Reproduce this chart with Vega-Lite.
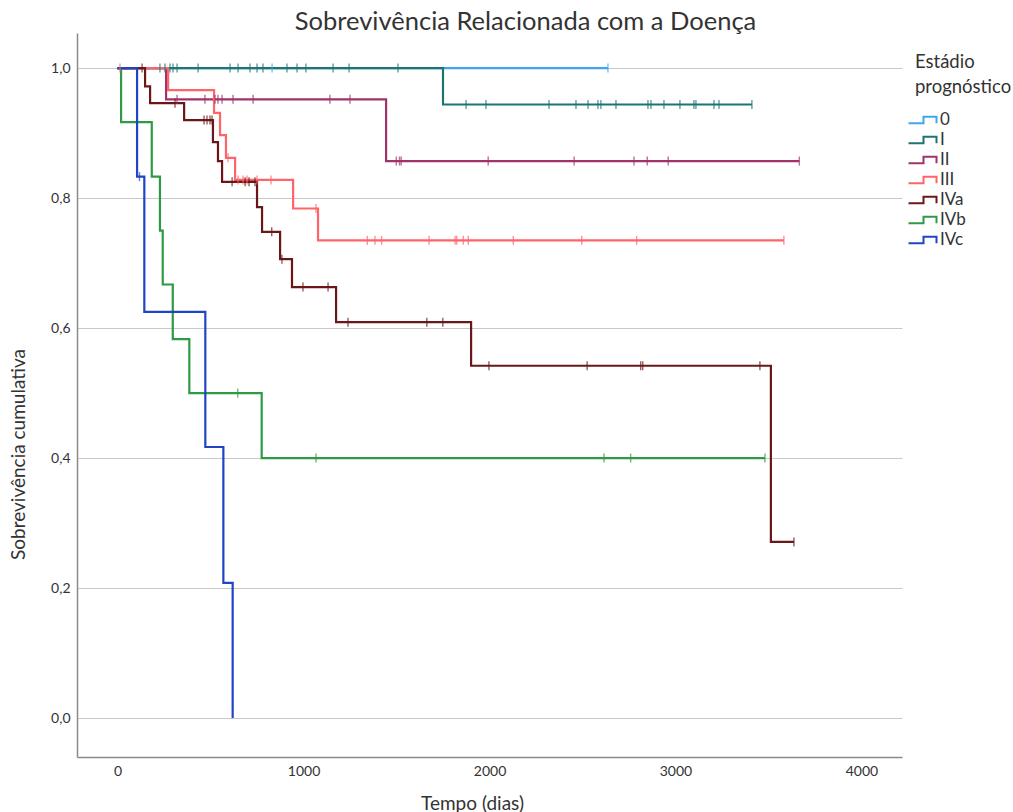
{
  "$schema": "https://vega.github.io/schema/vega-lite/v6.json",
  "width": 825,
  "height": 724,
  "autosize": {"type": "none"},
  "padding": {"left": 77, "top": 33, "right": 111, "bottom": 55},
  "background": "white",
  "title": {"text": "Sobrevivência Relacionada com a Doença", "font": "Lato", "fontSize": 25.5, "fontWeight": "normal", "color": "#333333", "anchor": "middle", "dx": 36, "dy": 26, "baseline": "alphabetic", "offset": 4},
  "config": {"view": {"stroke": null}, "font": "Lato", "axis": {"labelColor": "#333333", "titleColor": "#333333", "labelFont": "Lato", "titleFont": "Lato"}},
  "data": {"values": [
    {"g": "0", "t": 0, "s": 1, "c": 0},
    {"g": "0", "t": 831, "s": 1, "c": 1},
    {"g": "0", "t": 2637, "s": 1, "c": 1},

    {"g": "I", "t": 0, "s": 1, "c": 0},
    {"g": "I", "t": 228, "s": 1, "c": 1},
    {"g": "I", "t": 255, "s": 1, "c": 1},
    {"g": "I", "t": 282, "s": 1, "c": 1},
    {"g": "I", "t": 298, "s": 1, "c": 1},
    {"g": "I", "t": 320, "s": 1, "c": 1},
    {"g": "I", "t": 433, "s": 1, "c": 1},
    {"g": "I", "t": 605, "s": 1, "c": 1},
    {"g": "I", "t": 648, "s": 1, "c": 1},
    {"g": "I", "t": 712, "s": 1, "c": 1},
    {"g": "I", "t": 750, "s": 1, "c": 1},
    {"g": "I", "t": 782, "s": 1, "c": 1},
    {"g": "I", "t": 911, "s": 1, "c": 1},
    {"g": "I", "t": 965, "s": 1, "c": 1},
    {"g": "I", "t": 1013, "s": 1, "c": 1},
    {"g": "I", "t": 1159, "s": 1, "c": 1},
    {"g": "I", "t": 1245, "s": 1, "c": 1},
    {"g": "I", "t": 1508, "s": 1, "c": 1},
    {"g": "I", "t": 1750, "s": 0.944, "c": 0},
    {"g": "I", "t": 1874, "s": 0.944, "c": 1},
    {"g": "I", "t": 1981, "s": 0.944, "c": 1},
    {"g": "I", "t": 2320, "s": 0.944, "c": 1},
    {"g": "I", "t": 2465, "s": 0.944, "c": 1},
    {"g": "I", "t": 2530, "s": 0.944, "c": 1},
    {"g": "I", "t": 2583, "s": 0.944, "c": 1},
    {"g": "I", "t": 2599, "s": 0.944, "c": 1},
    {"g": "I", "t": 2680, "s": 0.944, "c": 1},
    {"g": "I", "t": 2852, "s": 0.944, "c": 1},
    {"g": "I", "t": 2868, "s": 0.944, "c": 1},
    {"g": "I", "t": 2938, "s": 0.944, "c": 1},
    {"g": "I", "t": 3024, "s": 0.944, "c": 1},
    {"g": "I", "t": 3099, "s": 0.944, "c": 1},
    {"g": "I", "t": 3110, "s": 0.944, "c": 1},
    {"g": "I", "t": 3207, "s": 0.944, "c": 1},
    {"g": "I", "t": 3234, "s": 0.944, "c": 1},
    {"g": "I", "t": 3411, "s": 0.944, "c": 1},

    {"g": "II", "t": 0, "s": 1, "c": 0},
    {"g": "II", "t": 261, "s": 0.952, "c": 0},
    {"g": "II", "t": 320, "s": 0.952, "c": 1},
    {"g": "II", "t": 470, "s": 0.952, "c": 1},
    {"g": "II", "t": 524, "s": 0.952, "c": 1},
    {"g": "II", "t": 540, "s": 0.952, "c": 1},
    {"g": "II", "t": 562, "s": 0.952, "c": 1},
    {"g": "II", "t": 621, "s": 0.952, "c": 1},
    {"g": "II", "t": 729, "s": 0.952, "c": 1},
    {"g": "II", "t": 1142, "s": 0.952, "c": 1},
    {"g": "II", "t": 1250, "s": 0.952, "c": 1},
    {"g": "II", "t": 1444, "s": 0.857, "c": 0},
    {"g": "II", "t": 1499, "s": 0.857, "c": 1},
    {"g": "II", "t": 1516, "s": 0.857, "c": 1},
    {"g": "II", "t": 1525, "s": 0.857, "c": 1},
    {"g": "II", "t": 1993, "s": 0.857, "c": 1},
    {"g": "II", "t": 2455, "s": 0.857, "c": 1},
    {"g": "II", "t": 2777, "s": 0.857, "c": 1},
    {"g": "II", "t": 2848, "s": 0.857, "c": 1},
    {"g": "II", "t": 2961, "s": 0.857, "c": 1},
    {"g": "II", "t": 3666, "s": 0.857, "c": 1},

    {"g": "III", "t": 0, "s": 1, "c": 0},
    {"g": "III", "t": 13, "s": 1, "c": 1},
    {"g": "III", "t": 272, "s": 0.966, "c": 0},
    {"g": "III", "t": 519, "s": 0.931, "c": 0},
    {"g": "III", "t": 551, "s": 0.897, "c": 0},
    {"g": "III", "t": 583, "s": 0.862, "c": 0},
    {"g": "III", "t": 594, "s": 0.862, "c": 1},
    {"g": "III", "t": 632, "s": 0.828, "c": 0},
    {"g": "III", "t": 648, "s": 0.828, "c": 1},
    {"g": "III", "t": 675, "s": 0.828, "c": 1},
    {"g": "III", "t": 696, "s": 0.828, "c": 1},
    {"g": "III", "t": 750, "s": 0.828, "c": 1},
    {"g": "III", "t": 825, "s": 0.828, "c": 1},
    {"g": "III", "t": 944, "s": 0.784, "c": 0},
    {"g": "III", "t": 1067, "s": 0.784, "c": 1},
    {"g": "III", "t": 1078, "s": 0.735, "c": 0},
    {"g": "III", "t": 1343, "s": 0.735, "c": 1},
    {"g": "III", "t": 1384, "s": 0.735, "c": 1},
    {"g": "III", "t": 1420, "s": 0.735, "c": 1},
    {"g": "III", "t": 1675, "s": 0.735, "c": 1},
    {"g": "III", "t": 1815, "s": 0.735, "c": 1},
    {"g": "III", "t": 1824, "s": 0.735, "c": 1},
    {"g": "III", "t": 1859, "s": 0.735, "c": 1},
    {"g": "III", "t": 1886, "s": 0.735, "c": 1},
    {"g": "III", "t": 2128, "s": 0.735, "c": 1},
    {"g": "III", "t": 2496, "s": 0.735, "c": 1},
    {"g": "III", "t": 2791, "s": 0.735, "c": 1},
    {"g": "III", "t": 3583, "s": 0.735, "c": 1},

    {"g": "IVa", "t": 0, "s": 1, "c": 0},
    {"g": "IVa", "t": 132, "s": 1, "c": 1},
    {"g": "IVa", "t": 148, "s": 0.972, "c": 0},
    {"g": "IVa", "t": 175, "s": 0.946, "c": 0},
    {"g": "IVa", "t": 309, "s": 0.946, "c": 1},
    {"g": "IVa", "t": 358, "s": 0.92, "c": 0},
    {"g": "IVa", "t": 465, "s": 0.92, "c": 1},
    {"g": "IVa", "t": 481, "s": 0.92, "c": 1},
    {"g": "IVa", "t": 497, "s": 0.92, "c": 1},
    {"g": "IVa", "t": 508, "s": 0.92, "c": 1},
    {"g": "IVa", "t": 513, "s": 0.886, "c": 0},
    {"g": "IVa", "t": 540, "s": 0.857, "c": 0},
    {"g": "IVa", "t": 562, "s": 0.825, "c": 0},
    {"g": "IVa", "t": 616, "s": 0.825, "c": 1},
    {"g": "IVa", "t": 686, "s": 0.825, "c": 1},
    {"g": "IVa", "t": 707, "s": 0.825, "c": 1},
    {"g": "IVa", "t": 739, "s": 0.825, "c": 1},
    {"g": "IVa", "t": 750, "s": 0.786, "c": 0},
    {"g": "IVa", "t": 777, "s": 0.748, "c": 0},
    {"g": "IVa", "t": 829, "s": 0.748, "c": 1},
    {"g": "IVa", "t": 874, "s": 0.706, "c": 0},
    {"g": "IVa", "t": 884, "s": 0.706, "c": 1},
    {"g": "IVa", "t": 938, "s": 0.663, "c": 0},
    {"g": "IVa", "t": 997, "s": 0.663, "c": 1},
    {"g": "IVa", "t": 1132, "s": 0.663, "c": 1},
    {"g": "IVa", "t": 1175, "s": 0.609, "c": 0},
    {"g": "IVa", "t": 1239, "s": 0.609, "c": 1},
    {"g": "IVa", "t": 1663, "s": 0.609, "c": 1},
    {"g": "IVa", "t": 1749, "s": 0.609, "c": 1},
    {"g": "IVa", "t": 1901, "s": 0.542, "c": 0},
    {"g": "IVa", "t": 1997, "s": 0.542, "c": 1},
    {"g": "IVa", "t": 2525, "s": 0.542, "c": 1},
    {"g": "IVa", "t": 2813, "s": 0.542, "c": 1},
    {"g": "IVa", "t": 2824, "s": 0.542, "c": 1},
    {"g": "IVa", "t": 3454, "s": 0.542, "c": 1},
    {"g": "IVa", "t": 3513, "s": 0.271, "c": 0},
    {"g": "IVa", "t": 3637, "s": 0.271, "c": 1},

    {"g": "IVb", "t": 0, "s": 1, "c": 0},
    {"g": "IVb", "t": 19, "s": 0.917, "c": 0},
    {"g": "IVb", "t": 184, "s": 0.833, "c": 0},
    {"g": "IVb", "t": 228, "s": 0.75, "c": 0},
    {"g": "IVb", "t": 243, "s": 0.667, "c": 0},
    {"g": "IVb", "t": 297, "s": 0.583, "c": 0},
    {"g": "IVb", "t": 386, "s": 0.5, "c": 0},
    {"g": "IVb", "t": 646, "s": 0.5, "c": 1},
    {"g": "IVb", "t": 775, "s": 0.4, "c": 0},
    {"g": "IVb", "t": 1067, "s": 0.4, "c": 1},
    {"g": "IVb", "t": 2616, "s": 0.4, "c": 1},
    {"g": "IVb", "t": 2759, "s": 0.4, "c": 1},
    {"g": "IVb", "t": 3481, "s": 0.4, "c": 1},

    {"g": "IVc", "t": 0, "s": 1, "c": 0},
    {"g": "IVc", "t": 105, "s": 0.833, "c": 0},
    {"g": "IVc", "t": 118, "s": 0.833, "c": 1},
    {"g": "IVc", "t": 144, "s": 0.625, "c": 0},
    {"g": "IVc", "t": 472, "s": 0.417, "c": 0},
    {"g": "IVc", "t": 569, "s": 0.208, "c": 0},
    {"g": "IVc", "t": 619, "s": 0, "c": 0}
  ]},
  "encoding": {
    "x": {"field": "t", "type": "quantitative",
      "scale": {"domain": [-218, 4218], "nice": false, "zero": false},
      "axis": {"values": [0, 1000, 2000, 3000, 4000], "format": "d", "grid": false, "ticks": false, "domainColor": "#8a8a8a", "domainWidth": 1.5, "labelPadding": 7, "labelFontSize": 14, "title": "Tempo (dias)", "titleFontSize": 19, "titleFontWeight": "normal", "titleX": 395, "titleY": 46, "titleBaseline": "middle", "titleAlign": "center"}},
    "y": {"field": "s", "type": "quantitative",
      "scale": {"domain": [-0.06, 1.054], "nice": false, "zero": false},
      "axis": {"values": [0, 0.2, 0.4, 0.6, 0.8, 1], "labelExpr": "replace(format(datum.value, '.1f'), '.', ',')", "grid": true, "gridColor": "#c8c8c8", "gridWidth": 1.2, "ticks": false, "domainColor": "#8a8a8a", "domainWidth": 1.5, "labelPadding": 7, "labelFontSize": 14, "title": "Sobrevivência cumulativa", "titleFontSize": 19, "titleFontWeight": "normal", "titleAngle": -90, "titleX": -59, "titleY": 421, "titleAlign": "center", "titleBaseline": "middle"}}
  },
  "layer": [
    {"mark": {"type": "line", "interpolate": "step-after", "strokeWidth": 2.2},
     "encoding": {
       "color": {"field": "g", "type": "nominal",
         "scale": {"domain": ["0", "I", "II", "III", "IVa", "IVb", "IVc"], "range": ["#3ea6ee", "#1e7472", "#a0326c", "#ff6468", "#6b1719", "#2e9a45", "#1f44c4"]},
         "legend": {"orient": "none", "legendX": 838, "legendY": 20, "title": ["Estádio", "prognóstico"], "titleFontSize": 18.5, "titleFontWeight": "normal", "titleLineHeight": 25, "titlePadding": 15, "titleColor": "#333333", "labelFontSize": 17, "labelColor": "#333333", "labelOffset": 8, "rowPadding": 2, "padding": 0, "symbolType": "M-3,0.66H0V-0.66H2.6V0.66", "symbolSize": 100, "symbolStrokeWidth": 2, "symbolFillColor": "transparent",
           "encode": {"symbols": {"update": {"fill": {"value": "transparent"}, "fillOpacity": {"value": 0}, "shape": {"value": "M-3,0.66H0V-0.66H2.6V0.66"}, "strokeWidth": {"value": 2}}}}}
       }}},
    {"transform": [{"filter": "datum.c == 1"}],
     "mark": {"type": "tick", "orient": "vertical", "size": 9, "thickness": 1.4},
     "encoding": {
       "color": {"field": "g", "type": "nominal", "legend": null}}}
  ]
}
